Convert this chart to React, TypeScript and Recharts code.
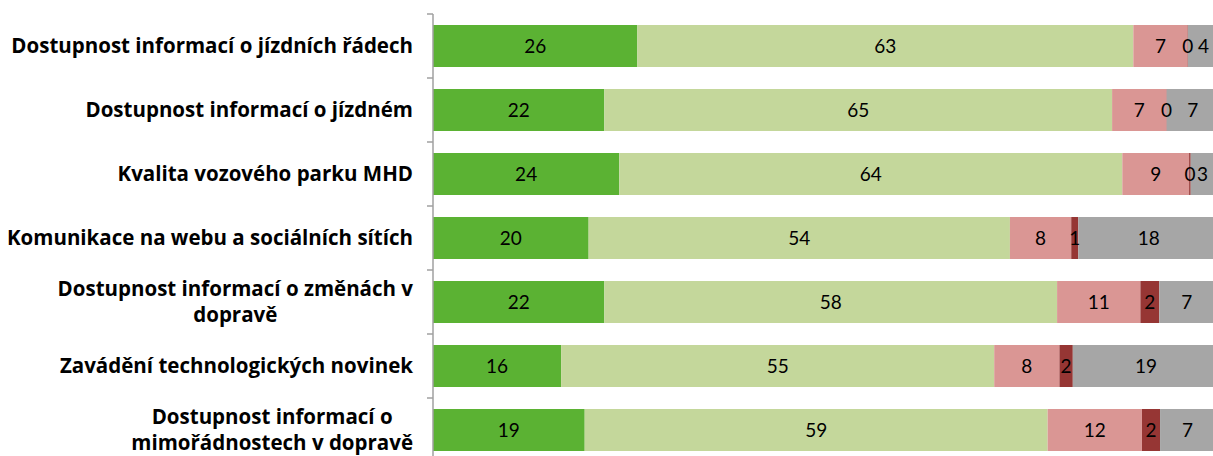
import React from 'react'
import { BarChart, Bar, XAxis, YAxis, LabelList } from 'recharts'

// hodnoty v %
const categories = [
  'Dostupnost informací o jízdních řádech',
  'Dostupnost informací o jízdném',
  'Kvalita vozového parku MHD',
  'Komunikace na webu a sociálních sítích',
  'Dostupnost informací o změnách v dopravě',
  'Zavádění technologických novinek',
  'Dostupnost informací o mimořádnostech v dopravě',
]
const velmiSpokojen = [26.0, 21.8, 23.7, 19.8, 21.8, 16.3, 19.3]
const spiseSpokojen = [63.1, 64.6, 64.0, 53.6, 57.6, 55.1, 58.9]
const spiseNespokojen = [6.9, 6.9, 8.5, 7.8, 10.6, 8.3, 12.0]
const velmiNespokojen = [0.05, 0.05, 0.2, 0.9, 2.4, 1.7, 2.3]
const nevi = [4, 7, 3, 18, 7, 19, 7]

const series = [
  { key: 'velmiSpokojen', name: 'velmi spokojen', fill: '#5bb233' },
  { key: 'spiseSpokojen', name: 'spíše spokojen', fill: '#c4d79b' },
  { key: 'spiseNespokojen', name: 'spíše nespokojen', fill: '#da9694' },
  { key: 'velmiNespokojen', name: 'velmi nespokojen', fill: '#963634' },
  { key: 'nevi', name: 'neví', fill: '#a6a6a6' },
]

const data = categories.map((name, i) => ({
  name,
  velmiSpokojen: velmiSpokojen[i],
  spiseSpokojen: spiseSpokojen[i],
  spiseNespokojen: spiseNespokojen[i],
  velmiNespokojen: velmiNespokojen[i],
  nevi: nevi[i],
}))

const WIDTH = 1225
const HEIGHT = 472
const MARGIN = { top: 14, right: 6, bottom: 10, left: 0 }
const AXIS_W = 433
const BAND = (HEIGHT - MARGIN.top - MARGIN.bottom) / categories.length
const TICK_SIZE = 20.5
const TICK_FONT = `bold ${TICK_SIZE}px "Open Sans"`
const LINE_H = 26

let ctx: CanvasRenderingContext2D | null = null
function measure(s: string) {
  if (!ctx) ctx = document.createElement('canvas').getContext('2d')
  ctx!.font = TICK_FONT
  return ctx!.measureText(s).width
}

function wrap(text: string, maxW: number) {
  const words = text.split(' ')
  const lines: string[] = []
  let cur = ''
  words.forEach((w) => {
    const next = cur ? cur + ' ' + w : w
    if (cur && measure(next) > maxW) {
      lines.push(cur)
      cur = w
    } else cur = next
  })
  if (cur) lines.push(cur)
  return lines
}

function CategoryTick(props: any) {
  const { y, payload, index } = props
  const axisX = AXIS_W
  const lines = wrap(payload.value, 408)
  const boxW = Math.max(...lines.map(measure))
  const cx = axisX - 20 - boxW / 2
  const y0 = y - ((lines.length - 1) * LINE_H) / 2
  return (
    <g>
      <line x1={axisX - 6} x2={axisX} y1={y - BAND / 2} y2={y - BAND / 2} stroke="#a0a0a0" strokeWidth={1.5} />
      {index === categories.length - 1 && (
        <line x1={axisX - 6} x2={axisX} y1={y + BAND / 2} y2={y + BAND / 2} stroke="#a0a0a0" strokeWidth={1.5} />
      )}
      <text textAnchor="middle" fontFamily="Open Sans" fontWeight="bold" fontSize={TICK_SIZE} fill="#000">
        {lines.map((l, i) => (
          <tspan key={i} x={cx} y={y0 + i * LINE_H} dy="0.35em">{l}</tspan>
        ))}
      </text>
    </g>
  )
}

export default function App() {
  return (
    <div style={{ position: 'fixed', top: 0, left: 0, width: 1213, height: 456, overflow: 'hidden', background: '#fff' }}>
      <BarChart
        width={WIDTH}
        height={HEIGHT}
        data={data}
        layout="vertical"
        margin={MARGIN}
        barSize={42}
      >
        <XAxis type="number" domain={[0, 100]} hide allowDataOverflow />
        <YAxis
          type="category"
          dataKey="name"
          width={AXIS_W}
          tickLine={false}
          axisLine={{ stroke: '#a0a0a0', strokeWidth: 1.5 }}
          tick={<CategoryTick />}
          interval={0}
        />
        {series.map((s) => (
          <Bar key={s.key} dataKey={s.key} name={s.name} stackId="a" fill={s.fill} isAnimationActive={false}>
            <LabelList
              dataKey={s.key}
              position="center"
              fill="#000"
              fontSize={19}
              fontFamily="Lato"
              formatter={(v: any) => String(Math.round(Number(v)))}
            />
          </Bar>
        ))}
      </BarChart>
    </div>
  )
}
